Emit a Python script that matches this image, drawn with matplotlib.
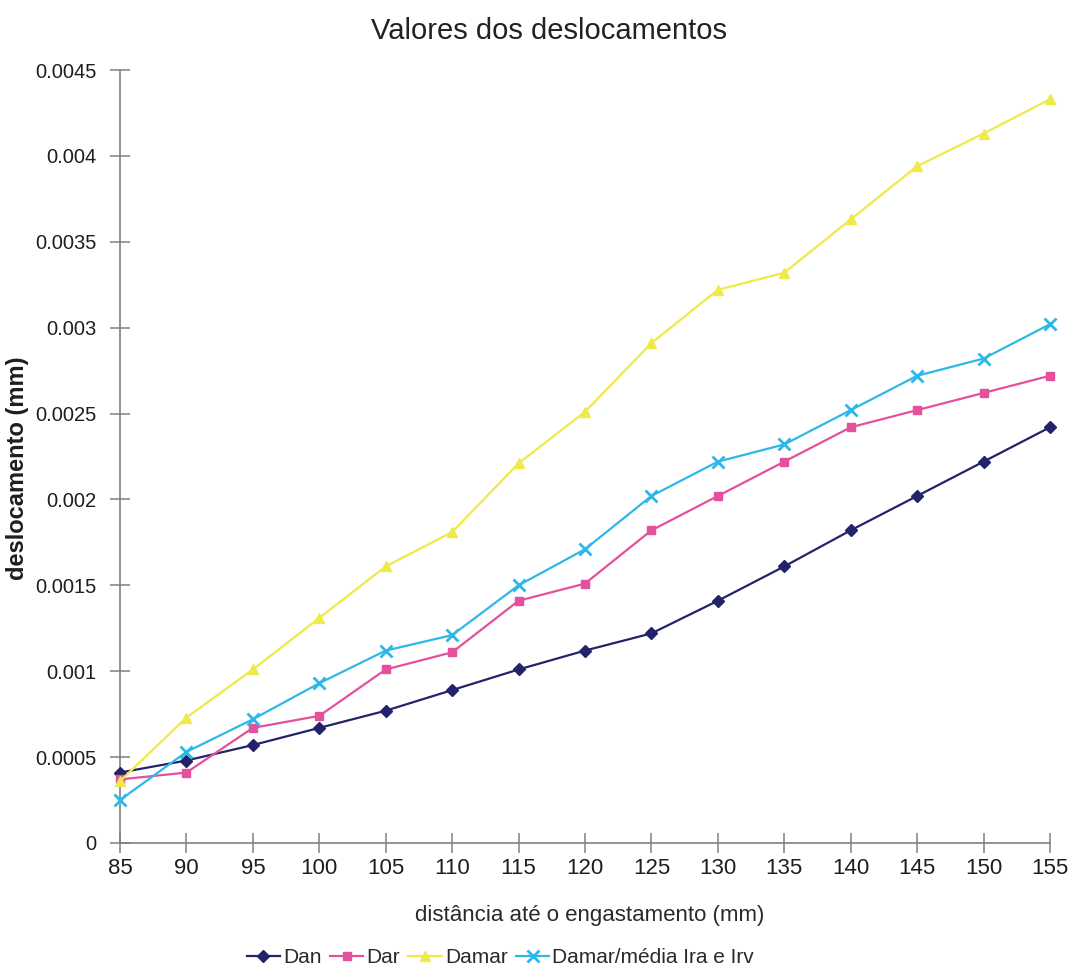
import matplotlib
matplotlib.use("Agg")
import matplotlib.pyplot as plt
from matplotlib import font_manager

# Data: displacement (mm) vs distance to clamp (mm)
distancia = [85, 90, 95, 100, 105, 110, 115, 120, 125, 130, 135, 140, 145, 150, 155]
dan = [0.00041, 0.00048, 0.00057, 0.00067, 0.00077, 0.00089, 0.00101, 0.00112,
       0.00122, 0.00141, 0.00161, 0.00182, 0.00202, 0.00222, 0.00242]
dar = [0.00037, 0.00041, 0.00067, 0.00074, 0.00101, 0.00111, 0.00141, 0.00151,
       0.00182, 0.00202, 0.00222, 0.00242, 0.00252, 0.00262, 0.00272]
damar = [0.00036, 0.00073, 0.00101, 0.00131, 0.00161, 0.00181, 0.00221, 0.00251,
         0.00291, 0.00322, 0.00332, 0.00363, 0.00394, 0.00413, 0.00433]
damar_media = [0.00025, 0.00053, 0.00072, 0.00093, 0.00112, 0.00121, 0.00150, 0.00171,
               0.00202, 0.00222, 0.00232, 0.00252, 0.00272, 0.00282, 0.00302]

y_ticks = [0, 0.0005, 0.001, 0.0015, 0.002, 0.0025, 0.003, 0.0035, 0.004, 0.0045]
y_tick_labels = ["0", "0.0005", "0.001", "0.0015", "0.002", "0.0025", "0.003",
                 "0.0035", "0.004", "0.0045"]

available = {f.name for f in font_manager.fontManager.ttflist}
family = "Liberation Sans Narrow" if "Liberation Sans Narrow" in available else "Liberation Sans"
plt.rcParams["font.family"] = [family, "DejaVu Sans"]

fig = plt.figure(figsize=(10.76, 9.75), dpi=100)
ax = fig.add_axes([0.1115, 0.1354, 0.8643, 0.7928])

series = [
    (dan, "Dan", "#23236b", "D", 6),
    (dar, "Dar", "#e4509c", "s", 6),
    (damar, "Damar", "#eeea48", "^", 7),
    (damar_media, "Damar/média Ira e Irv", "#2db8e8", "x", 8),
]
for vals, name, color, marker, ms in series:
    ax.plot(distancia, vals, color=color, marker=marker, markersize=ms,
            markeredgewidth=2 if marker == "x" else 1, linewidth=1.6,
            label=name, clip_on=False, zorder=3)

ax.set_xlim(85, 155)
ax.set_ylim(0, 0.0045)
ax.set_xticks(distancia)
ax.set_xticklabels([str(d) for d in distancia], fontsize=16)
ax.set_yticks(y_ticks)
ax.set_yticklabels(y_tick_labels, fontsize=14.5)

for side in ("top", "right"):
    ax.spines[side].set_visible(False)
for side in ("left", "bottom"):
    ax.spines[side].set_color("#808080")
    ax.spines[side].set_linewidth(1.2)
ax.tick_params(axis="both", direction="inout", length=14, width=1.1,
               color="#808080", labelcolor="#1e1e1e")
ax.tick_params(axis="x", pad=4)
ax.tick_params(axis="y", pad=10)

fig.text(0.51, 0.968, "Valores dos deslocamentos", ha="center", va="center",
         fontsize=21, color="#222222")
ax.set_ylabel("deslocamento (mm)", fontsize=17, fontweight="bold",
              color="#1e1e1e")
ax.yaxis.set_label_coords(-0.098, 0.485)
fig.text(0.548, 0.061, "distância até o engastamento (mm)", ha="center",
         va="center", fontsize=16, color="#2a2a2a")

fig.legend(loc="center", bbox_to_anchor=(0.465, 0.018), ncol=4, frameon=False,
           fontsize=15, handlelength=1.6, handletextpad=0.15, columnspacing=0.4,
           labelcolor="#2a2a2a")

fig.savefig("out.png", dpi=100, facecolor="white")
